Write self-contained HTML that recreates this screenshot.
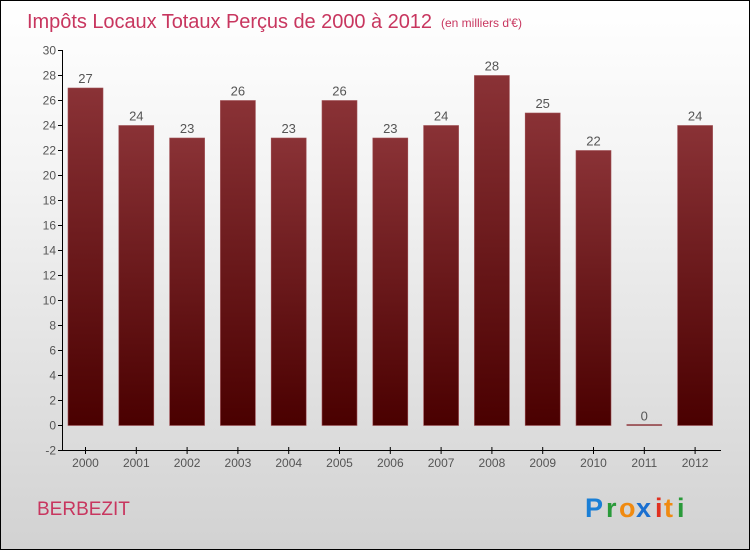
<!DOCTYPE html>
<html><head><meta charset="utf-8"><style>
body{margin:0}
#wrap{position:relative;width:748px;height:548px;border:1px solid #000;background:linear-gradient(#ffffff,#f4f4f4 30%,#d2d2d2);font-family:"Liberation Sans",sans-serif;overflow:hidden}
</style></head><body>
<div id="wrap">
<svg id="chart" width="748" height="548">
<defs><linearGradient id="bg" x1="0" y1="0" x2="0" y2="1"><stop offset="0" stop-color="#8a3236"/><stop offset="1" stop-color="#4a0000"/></linearGradient></defs>
<text x="26" y="27" font-size="20" fill="#c8365f" textLength="405">Impôts Locaux Totaux Perçus de 2000 à 2012</text>
<text x="440" y="26" font-size="12" fill="#c8365f">(en milliers d'€)</text>
<text x="36" y="514" font-size="19" fill="#c8365f">BERBEZIT</text>
<g font-size="27" font-weight="bold" font-family="'Liberation Sans',sans-serif">
<text x="584" y="516" fill="#1a7fd6">P</text><text x="605" y="516" fill="#2a9a3a">r</text><text x="618" y="516" fill="#f08a10">o</text><text x="635" y="516" fill="#1a6fd0">x</text><text x="654" y="516" fill="#e03020">i</text><text x="663" y="516" fill="#f08a10">t</text><text x="676" y="516" fill="#2a9a3a">i</text>
</g>
<g id="g"></g>
</svg>
</div>
<script>
const years=["2000","2001","2002","2003","2004","2005","2006","2007","2008","2009","2010","2011","2012"];
const values=[27,24,23,26,23,26,23,24,28,25,22,0,24];
const yTicks=[-2,0,2,4,6,8,10,12,14,16,18,20,22,24,26,28,30];
const NS="http://www.w3.org/2000/svg";
const g=document.getElementById('g');
function y(v){return 424.5-(v)*12.5;}
function x(i){return 84.5+i*50.8;}
function el(t,a,txt){const e=document.createElementNS(NS,t);for(const k in a)e.setAttribute(k,a[k]);if(txt!==undefined)e.textContent=txt;g.appendChild(e);return e;}
let ax=el('line',{x1:61.5,y1:y(30),x2:61.5,y2:y(-2),stroke:'#000'});


let xa=el('line',{x1:61.5,y1:449.5,x2:720,y2:449.5,stroke:'#000'});


yTicks.forEach(v=>{
 let t=el('line',{x1:57,x2:62,y1:y(v),y2:y(v),stroke:'#000'});
 
 
 let l=el('text',{x:55,y:y(v)+4,'font-size':12,'text-anchor':'end',fill:'#555'},String(v));
 
 
});
years.forEach((yr,i)=>{
 const cx=x(i),v=values[i];
 let t=el('line',{x1:cx,x2:cx,y1:446,y2:453,stroke:'#000'});
 
 
 let l=el('text',{x:cx,y:466,'font-size':12,'text-anchor':'middle',fill:'#555'},yr);
 
 
 const top=y(v),h=Math.max(y(0)-top,1);
 let b=el('rect',{x:cx-17.5,y:v>0?top:y(0)-1,width:35,height:h,fill:'url(#bg)',stroke:'#a05055','stroke-width':0.6});
 
 
 let vl=el('text',{x:cx,y:top-5,'font-size':13,'text-anchor':'middle',fill:'#555'},String(v));
 
 
});
</script>
</body></html>
